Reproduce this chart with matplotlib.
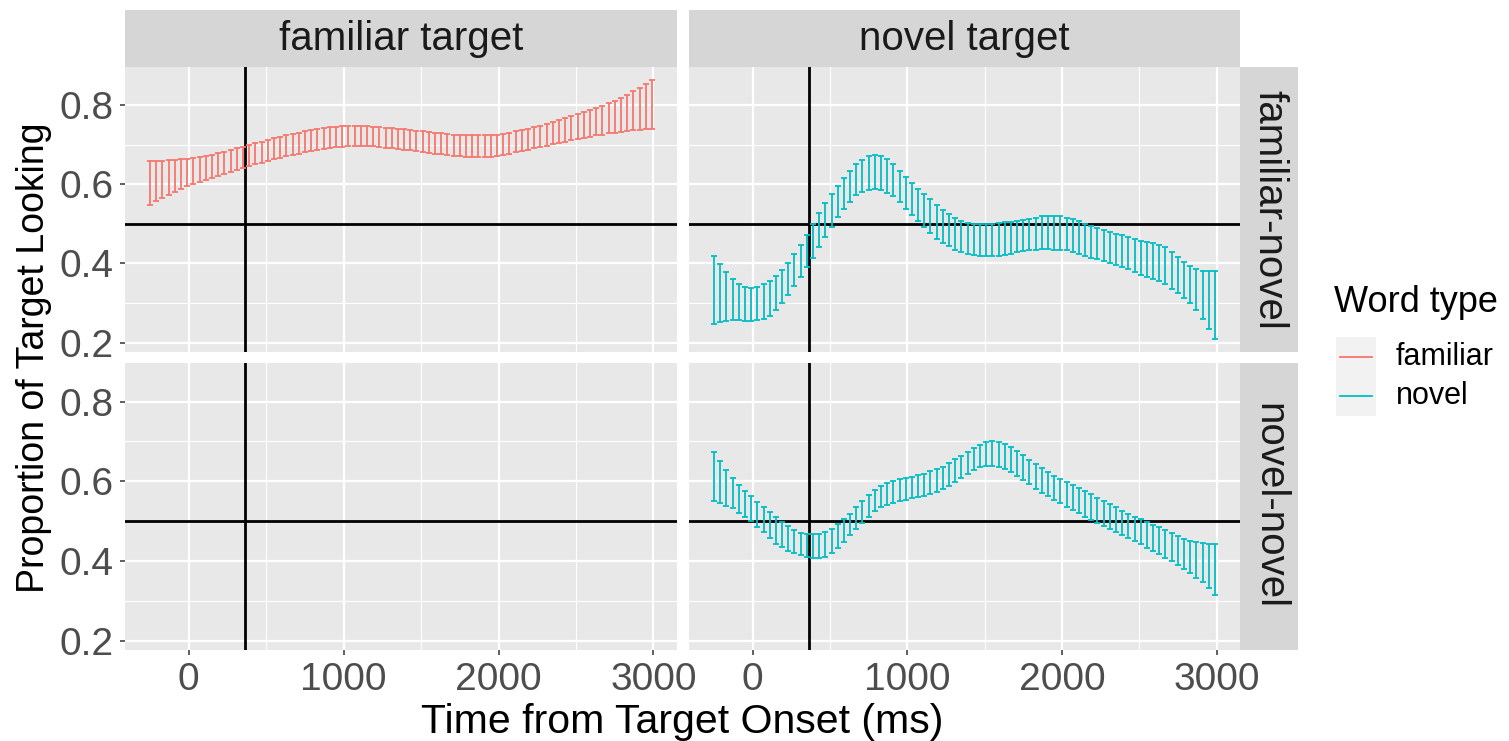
import matplotlib.pyplot as plt
from matplotlib.ticker import FixedLocator, MultipleLocator

W, H = 1509, 741
plt.rcParams["font.family"] = ["Liberation Sans", "DejaVu Sans"]

# 40 ms time bins, -250 .. 2990 ms
time_ms = list(range(-250, 3000, 40))

# familiar target / familiar-novel trials (familiar word)
fam_fn_lo = [0.549, 0.557, 0.566, 0.574, 0.581, 0.588, 0.595, 0.601, 0.607, 0.612,
             0.617, 0.622, 0.627, 0.632, 0.637, 0.642, 0.646, 0.651, 0.655, 0.659,
             0.663, 0.667, 0.671, 0.675, 0.678, 0.682, 0.685, 0.688, 0.690, 0.692,
             0.694, 0.695, 0.696, 0.697, 0.697, 0.697, 0.696, 0.695, 0.693, 0.692,
             0.690, 0.688, 0.686, 0.684, 0.682, 0.680, 0.678, 0.676, 0.674, 0.672,
             0.671, 0.670, 0.669, 0.669, 0.669, 0.670, 0.672, 0.675, 0.678, 0.681,
             0.684, 0.688, 0.691, 0.695, 0.698, 0.702, 0.705, 0.708, 0.712, 0.715,
             0.718, 0.721, 0.724, 0.726, 0.729, 0.731, 0.733, 0.735, 0.737, 0.738,
             0.740, 0.741]
fam_fn_hi = [0.659, 0.660, 0.660, 0.661, 0.662, 0.663, 0.665, 0.667, 0.669, 0.672,
             0.675, 0.679, 0.683, 0.687, 0.691, 0.695, 0.699, 0.704, 0.708, 0.712,
             0.716, 0.720, 0.724, 0.727, 0.731, 0.734, 0.737, 0.740, 0.742, 0.744,
             0.746, 0.747, 0.748, 0.748, 0.748, 0.747, 0.746, 0.745, 0.743, 0.742,
             0.740, 0.739, 0.737, 0.735, 0.734, 0.732, 0.730, 0.729, 0.727, 0.726,
             0.725, 0.724, 0.724, 0.724, 0.724, 0.725, 0.726, 0.728, 0.731, 0.734,
             0.737, 0.740, 0.744, 0.748, 0.753, 0.757, 0.762, 0.767, 0.772, 0.777,
             0.782, 0.788, 0.793, 0.799, 0.805, 0.812, 0.819, 0.827, 0.835, 0.844,
             0.854, 0.864]

# novel target / familiar-novel trials (novel word)
nov_fn_lo = [0.248, 0.251, 0.255, 0.257, 0.257, 0.255, 0.255, 0.256, 0.260, 0.268,
             0.282, 0.300, 0.321, 0.343, 0.367, 0.392, 0.415, 0.442, 0.467, 0.492,
             0.518, 0.538, 0.556, 0.572, 0.582, 0.587, 0.588, 0.587, 0.578, 0.570,
             0.555, 0.539, 0.523, 0.508, 0.492, 0.477, 0.462, 0.451, 0.443, 0.435,
             0.429, 0.425, 0.422, 0.419, 0.418, 0.418, 0.419, 0.422, 0.425, 0.429,
             0.431, 0.434, 0.435, 0.436, 0.436, 0.435, 0.435, 0.433, 0.430, 0.425,
             0.419, 0.415, 0.411, 0.406, 0.402, 0.397, 0.391, 0.385, 0.378, 0.372,
             0.367, 0.362, 0.355, 0.347, 0.335, 0.325, 0.313, 0.300, 0.283, 0.260,
             0.235, 0.209]
nov_fn_hi = [0.420, 0.398, 0.378, 0.361, 0.348, 0.340, 0.338, 0.341, 0.348, 0.357,
             0.368, 0.383, 0.402, 0.423, 0.448, 0.473, 0.500, 0.528, 0.552, 0.575,
             0.597, 0.617, 0.635, 0.651, 0.662, 0.671, 0.674, 0.672, 0.664, 0.651,
             0.634, 0.619, 0.604, 0.589, 0.576, 0.563, 0.549, 0.536, 0.524, 0.514,
             0.507, 0.503, 0.501, 0.500, 0.500, 0.501, 0.502, 0.504, 0.505, 0.507,
             0.510, 0.513, 0.516, 0.519, 0.521, 0.521, 0.519, 0.516, 0.512, 0.507,
             0.499, 0.495, 0.490, 0.485, 0.480, 0.475, 0.471, 0.467, 0.462, 0.458,
             0.455, 0.451, 0.447, 0.441, 0.429, 0.416, 0.403, 0.393, 0.386, 0.382,
             0.381, 0.381]

# novel target / novel-novel trials (novel word)
nov_nn_lo = [0.550, 0.545, 0.539, 0.532, 0.521, 0.511, 0.499, 0.486, 0.472, 0.458,
             0.443, 0.435, 0.426, 0.419, 0.414, 0.409, 0.406, 0.406, 0.409, 0.419,
             0.433, 0.447, 0.464, 0.480, 0.496, 0.511, 0.524, 0.534, 0.541, 0.546,
             0.551, 0.554, 0.558, 0.560, 0.564, 0.569, 0.574, 0.581, 0.587, 0.597,
             0.608, 0.619, 0.628, 0.635, 0.638, 0.638, 0.636, 0.631, 0.623, 0.613,
             0.603, 0.592, 0.581, 0.570, 0.562, 0.553, 0.545, 0.536, 0.528, 0.519,
             0.511, 0.503, 0.496, 0.488, 0.481, 0.473, 0.465, 0.458, 0.450, 0.442,
             0.433, 0.425, 0.416, 0.408, 0.399, 0.389, 0.379, 0.369, 0.358, 0.346,
             0.331, 0.314]
nov_nn_hi = [0.674, 0.651, 0.629, 0.608, 0.590, 0.575, 0.562, 0.548, 0.536, 0.523,
             0.510, 0.498, 0.487, 0.477, 0.470, 0.467, 0.467, 0.468, 0.472, 0.481,
             0.492, 0.504, 0.518, 0.534, 0.551, 0.566, 0.579, 0.589, 0.596, 0.601,
             0.605, 0.608, 0.611, 0.615, 0.619, 0.625, 0.630, 0.636, 0.645, 0.655,
             0.664, 0.674, 0.684, 0.692, 0.699, 0.701, 0.699, 0.694, 0.687, 0.677,
             0.665, 0.653, 0.642, 0.632, 0.623, 0.614, 0.606, 0.598, 0.591, 0.583,
             0.575, 0.567, 0.558, 0.550, 0.542, 0.534, 0.526, 0.518, 0.511, 0.504,
             0.497, 0.491, 0.484, 0.477, 0.470, 0.463, 0.456, 0.450, 0.447, 0.444,
             0.443, 0.443]

col_labels = ["familiar target", "novel target"]
row_labels = ["familiar-novel", "novel-novel"]
word_types = ["familiar", "novel"]
word_colours = ["#F8766D", "#00BFC4"]
onset_ms = 365
chance = 0.5

# (row, col, word type index, lower, upper)
series = [
    (0, 0, 0, fam_fn_lo, fam_fn_hi),
    (0, 1, 1, nov_fn_lo, nov_fn_hi),
    (1, 1, 1, nov_nn_lo, nov_nn_hi),
]


def px(x0, y0, x1, y1):
    return [x0 / W, 1 - y1 / H, (x1 - x0) / W, (y1 - y0) / H]


def strip_axes(rect):
    sa = fig.add_axes(px(*rect))
    sa.set_facecolor("#D6D6D6")
    sa.set_xticks([])
    sa.set_yticks([])
    for sp in sa.spines.values():
        sp.set_visible(False)
    return sa


all_lo = min(min(s[3]) for s in series)
all_hi = max(max(s[4]) for s in series)
ypad = 0.05 * (all_hi - all_lo)
xpad = 0.05 * (time_ms[-1] - time_ms[0])

fig = plt.figure(figsize=(W / 100, H / 100), dpi=100)
col_x = [(125, 677), (689, 1240)]
row_y = [(67, 352), (363, 650)]

axes = {}
for r, (y0, y1) in enumerate(row_y):
    for c, (x0, x1) in enumerate(col_x):
        ax = fig.add_axes(px(x0, y0, x1, y1))
        ax.set_facecolor("#E8E8E8")
        for sp in ax.spines.values():
            sp.set_visible(False)
        ax.set_xlim(time_ms[0] - xpad, time_ms[-1] + xpad)
        ax.set_ylim(all_lo - ypad, all_hi + ypad)
        ax.xaxis.set_major_locator(FixedLocator([0, 1000, 2000, 3000]))
        ax.xaxis.set_minor_locator(MultipleLocator(500))
        ax.yaxis.set_major_locator(FixedLocator([0.2, 0.4, 0.6, 0.8]))
        ax.yaxis.set_minor_locator(MultipleLocator(0.1))
        ax.set_axisbelow(True)
        ax.grid(which="major", color="white", lw=1.6)
        ax.grid(which="minor", color="white", lw=0.8)
        ax.tick_params(which="minor", length=0)
        ax.tick_params(which="major", labelsize=28, labelcolor="#4D4D4D",
                       color="#333333", length=3.5, width=1.1, pad=5)
        ax.tick_params(left=(c == 0), labelleft=(c == 0),
                       bottom=(r == 1), labelbottom=(r == 1))
        ax.axvline(onset_ms, color="black", lw=2, zorder=1.5)
        ax.axhline(chance, color="black", lw=2, zorder=1.5)
        axes[(r, c)] = ax

for r, c, w, lo, hi in series:
    mid = [(a + b) / 2 for a, b in zip(lo, hi)]
    err = [[m - a for m, a in zip(mid, lo)], [b - m for m, b in zip(mid, hi)]]
    axes[(r, c)].errorbar(time_ms, mid, yerr=err, fmt="none",
                          ecolor=word_colours[w], elinewidth=1.3,
                          capsize=2.2, capthick=1.3, zorder=3)

# facet strips
for c, (x0, x1) in enumerate(col_x):
    sa = strip_axes((x0, 10, x1, 67))
    sa.text(0.5, 0.5, col_labels[c], transform=sa.transAxes, ha="center",
            va="center", fontsize=29, color="#1A1A1A")

for r, (y0, y1) in enumerate(row_y):
    sa = strip_axes((1240, y0, 1298, y1))
    sa.text(0.5, 0.5, row_labels[r], transform=sa.transAxes, ha="center",
            va="center", rotation=-90, fontsize=29, color="#1A1A1A")

# axis titles
fig.text(682 / W, 1 - 733 / H, "Time from Target Onset (ms)", ha="center",
         va="baseline", fontsize=29.5)
fig.text(34 / W, 1 - 358 / H, "Proportion of Target Looking", ha="center",
         va="center", rotation=90, fontsize=27)

# legend
fig.text(1334 / W, 1 - 312 / H, "Word type", ha="left", va="baseline",
         fontsize=26)
key = fig.add_axes(px(1336, 337, 1376, 416))
key.set_facecolor("#F2F2F2")
key.set_xticks([])
key.set_yticks([])
for sp in key.spines.values():
    sp.set_visible(False)
key.set_xlim(0, 1)
key.set_ylim(len(word_types), 0)
for i, (name, colour) in enumerate(zip(word_types, word_colours)):
    key.plot([0.1, 0.9], [i + 0.5, i + 0.5], color=colour, lw=1.3)
    fig.text(1396 / W, 1 - (357 + 39 * i) / H, name, ha="left", va="center",
             fontsize=22)

fig.savefig("out.png", dpi=100)
